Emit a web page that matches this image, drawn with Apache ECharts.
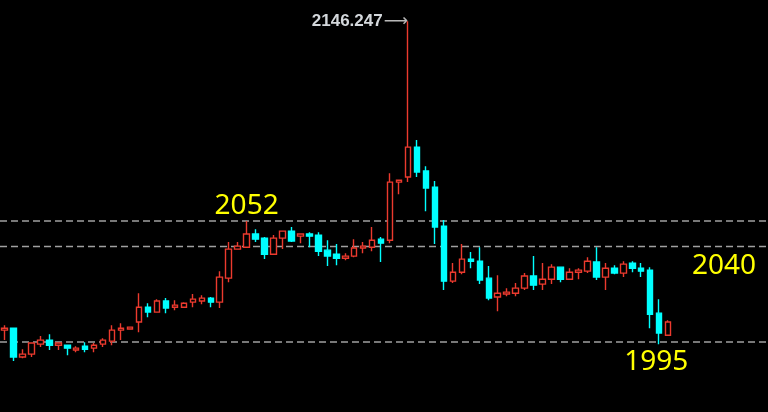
<!DOCTYPE html>
<html>
<head>
<meta charset="utf-8">
<script src="https://cdn.jsdelivr.net/npm/echarts@6/dist/echarts.min.js"></script>
<style>
html,body{margin:0;padding:0;background:#000;}
#chart{width:768px;height:412px;}
</style>
</head>
<body>
<div id="chart"></div>
<script>
const opens = [
  2000.6, 2001.5, 1987.9, 1989.3, 1994.0, 1995.9, 1993.5, 1993.5, 1991.2, 1993.0, 1992.1, 1994.0, 1995.4, 2000.6, 2001.1,
  2004.4, 2011.4, 2009.1, 2014.3, 2011.4, 2011.4, 2013.8, 2014.3, 2015.7, 2013.8, 2025.1, 2038.8, 2039.7, 2045.9, 2044.0,
  2036.4, 2044.0, 2047.3, 2044.9, 2045.9, 2045.4, 2038.3, 2036.4, 2034.5, 2035.5, 2039.3, 2039.7, 2043.5, 2043.0, 2070.4,
  2072.8, 2086.9, 2075.6, 2068.0, 2049.6, 2023.7, 2027.9, 2034.1, 2033.1, 2025.1, 2016.2, 2017.6, 2018.0, 2020.4, 2026.1,
  2022.3, 2024.6, 2030.3, 2024.6, 2027.9, 2028.4, 2032.7, 2025.6, 2029.8, 2027.5, 2032.2, 2029.8, 2028.9, 2008.6, 1998.2
];
const closes = [
  2001.5, 1987.9, 1989.3, 1994.5, 1995.9, 1993.5, 1994.5, 1992.1, 1992.1, 1991.6, 1993.5, 1995.9, 2000.6, 2001.5, 2002.0,
  2011.4, 2009.1, 2014.3, 2011.0, 2012.4, 2013.3, 2015.2, 2015.7, 2013.8, 2025.6, 2038.8, 2040.2, 2045.9, 2043.5, 2036.4,
  2044.0, 2047.3, 2042.6, 2045.9, 2044.9, 2037.8, 2035.5, 2034.5, 2035.5, 2039.3, 2040.2, 2043.0, 2041.6, 2070.4, 2071.3,
  2086.9, 2075.1, 2067.6, 2049.2, 2023.7, 2027.9, 2034.1, 2033.1, 2024.2, 2015.7, 2018.0, 2018.5, 2020.4, 2026.1, 2021.8,
  2024.6, 2030.3, 2024.6, 2027.9, 2028.9, 2033.1, 2025.6, 2029.8, 2027.5, 2031.7, 2029.8, 2028.4, 2008.1, 1999.2, 2004.4
];
const lows = [
  1995.9, 1986.0, 1987.4, 1987.9, 1992.6, 1991.2, 1991.2, 1988.8, 1990.2, 1990.2, 1990.2, 1992.6, 1993.5, 1995.9, 2000.9,
  1999.6, 2006.7, 2008.9, 2008.6, 2010.0, 2011.0, 2011.4, 2012.8, 2011.4, 2011.0, 2023.2, 2038.6, 2039.5, 2042.1, 2034.1,
  2036.2, 2038.8, 2042.1, 2041.6, 2039.7, 2035.5, 2030.8, 2031.2, 2033.6, 2035.0, 2036.9, 2037.8, 2032.7, 2041.6, 2064.7,
  2070.4, 2072.8, 2056.7, 2041.2, 2019.5, 2022.8, 2027.0, 2029.8, 2022.3, 2014.7, 2009.5, 2016.6, 2016.6, 2019.5, 2019.5,
  2019.5, 2022.3, 2023.2, 2024.4, 2024.6, 2027.5, 2024.2, 2019.5, 2027.0, 2025.6, 2027.9, 2025.6, 2001.5, 1994.0, 1998.0
];
const highs = [
  2002.9, 2001.7, 1991.6, 1994.7, 1997.8, 1998.7, 1994.9, 1993.6, 1993.0, 1994.9, 1994.5, 1996.8, 2002.9, 2003.9, 2002.2,
  2018.0, 2013.3, 2015.2, 2015.7, 2014.7, 2013.8, 2017.6, 2017.1, 2016.2, 2028.4, 2042.1, 2042.1, 2052.0, 2048.2, 2044.5,
  2045.4, 2047.5, 2049.2, 2046.3, 2046.8, 2046.8, 2043.0, 2041.2, 2036.9, 2043.5, 2042.1, 2049.2, 2044.5, 2074.6, 2071.5,
  2146.247, 2090.2, 2077.9, 2070.9, 2052.5, 2032.2, 2041.2, 2037.4, 2039.7, 2030.8, 2026.5, 2020.4, 2022.8, 2027.5, 2035.5,
  2032.2, 2031.7, 2030.5, 2029.8, 2029.8, 2035.0, 2039.7, 2032.2, 2031.2, 2033.1, 2033.1, 2032.2, 2030.3, 2015.2, 2005.3
];
const levels = [2052, 2040, 1995];
const levelLabels = ['2052', '2040', '1995'];
const levelLabelIdx = [27, 80, 73];
const levelLabelPos = ['top', 'bottom', 'bottom'];
const peakValue = 2146.247;
const peakIndex = 45;
const totalSlots = 85;

const categories = [];
for (let i = 0; i < totalSlots; i++) categories.push(String(i + 1));
const candleData = opens.map((o, i) => [o, closes[i], lows[i], highs[i]]);

const RED = '#ec3a2e';
const CYAN = '#00ffff';
const Y_MIN = 1962, Y_MAX = 2156.25;

const labelOffsets = [[0, 0], [2, 0], [-3, 0]];
const labelDist = [1, 5, 6];
const markPts = levels.map((v, i) => ({
  coord: [levelLabelIdx[i], v],
  symbolSize: 0,
  label: {
    show: true,
    formatter: levelLabels[i],
    position: levelLabelPos[i],
    distance: labelDist[i],
    offset: labelOffsets[i],
    color: '#ffff00',
    fontSize: 28,
    fontFamily: 'Noto Sans'
  }
}));
markPts.push({
  coord: [peakIndex, peakValue],
  symbolSize: 0,
  label: {
    show: true,
    formatter: '{t|' + peakValue.toFixed(3) + '}{a|⟶}',
    position: 'left',
    distance: 0,
    rich: {
      t: { color: '#d4d8dc', fontSize: 17, fontWeight: 'bold', fontFamily: 'Liberation Sans' },
      a: { color: '#b8b8b8', fontSize: 17, fontFamily: 'DejaVu Sans', padding: [0, 0, 0, 1] }
    }
  }
});

const levelSeries = levels.map(v => ({
  type: 'line',
  xAxisIndex: 1,
  yAxisIndex: 1,
  data: [[0, v], [1, v]],
  symbol: 'none',
  silent: true,
  z: 1,
  lineStyle: { color: '#a0a0a0', type: [7, 4], width: 1.5 }
}));

const chart = echarts.init(document.getElementById('chart'));
chart.setOption({
  backgroundColor: '#000000',
  animation: false,
  grid: [
    { left: -1.5, right: 5.7, top: 0, bottom: 0 },
    { left: 0, right: 0, top: 0, bottom: 0 }
  ],
  xAxis: [
    { type: 'category', data: categories, boundaryGap: true, show: false, gridIndex: 0 },
    { type: 'value', min: 0, max: 1, show: false, gridIndex: 1 }
  ],
  yAxis: [
    { type: 'value', min: Y_MIN, max: Y_MAX, show: false, splitLine: { show: false }, gridIndex: 0 },
    { type: 'value', min: Y_MIN, max: Y_MAX, show: false, splitLine: { show: false }, gridIndex: 1 }
  ],
  series: levelSeries.concat([{
    type: 'candlestick',
    z: 5,
    data: candleData,
    barWidth: 6,
    itemStyle: {
      color: '#000000',
      color0: CYAN,
      borderColor: RED,
      borderColor0: CYAN,
      borderWidth: 1.4
    },
    markPoint: {
      silent: true,
      symbol: 'circle',
      data: markPts
    }
  }])
});
</script>
</body>
</html>
